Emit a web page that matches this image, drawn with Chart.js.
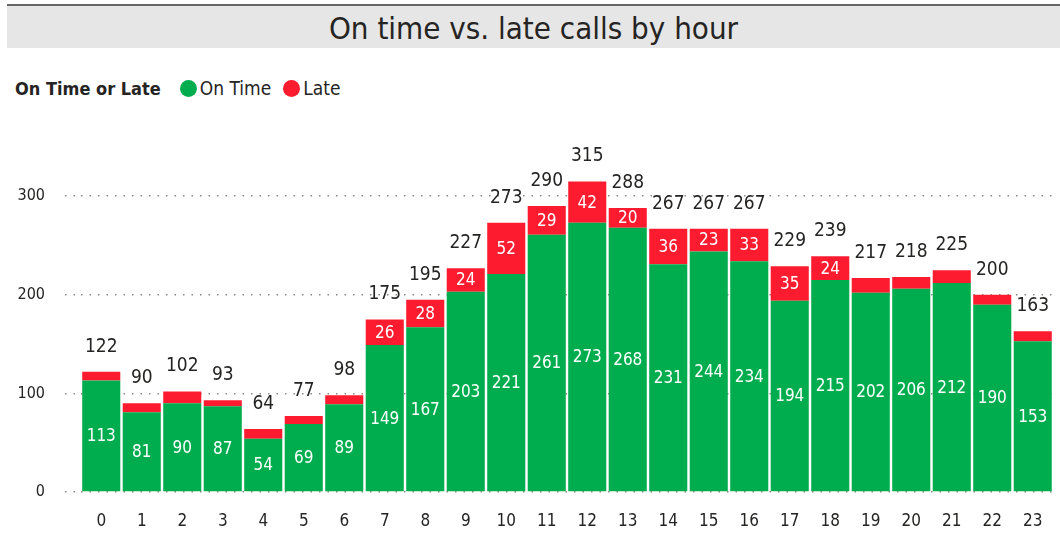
<!DOCTYPE html>
<html>
<head>
<meta charset="utf-8">
<script src="https://cdn.jsdelivr.net/npm/chart.js@4"></script>
<style>
  html, body { margin: 0; padding: 0; background: #fff; }
  body { width: 1060px; height: 541px; position: relative; overflow: hidden;
         font-family: "DejaVu Sans Condensed", "Liberation Sans Narrow", sans-serif; color: #252423; }
  #title { position: absolute; left: 7px; top: 4px; width: 1053px; height: 42px;
           background: #e6e6e6; border-top: 2px solid #666; text-align: center;
           font-size: 31px; line-height: 44px; }
  #legend { position: absolute; left: 15px; top: 76px; font-size: 19px; line-height: 24px; white-space: nowrap; }
  #legend b { margin-right: 19px; font-size: 18px; }
  .dot { display: inline-block; width: 17px; height: 17px; border-radius: 50%; vertical-align: -2px; margin-right: 3px; }
  .item { margin-right: 12px; }
  #wrap { position: absolute; left: 0; top: 0; width: 1060px; height: 541px; }
</style>
</head>
<body>
<div id="title">On time vs. late calls by hour</div>
<div id="legend"><b>On Time or Late</b><span class="item"><span class="dot" style="background:#00AD4E"></span>On Time</span><span class="item"><span class="dot" style="background:#FD1C2F"></span>Late</span></div>
<div id="wrap"><canvas id="chart"></canvas></div>
<script>
var hours = ["0","1","2","3","4","5","6","7","8","9","10","11","12","13","14","15","16","17","18","19","20","21","22","23"];
var onTime = [113,81,90,87,54,69,89,149,167,203,221,261,273,268,231,244,234,194,215,202,206,212,190,153];
var late = [9,9,12,6,10,8,9,26,28,24,52,29,42,20,36,23,33,35,24,15,12,13,10,10];
var yTicks = [0,100,200,300];

var green = "#00AD4E";
var red = "#FD1C2F";
var fontFam = '"DejaVu Sans Condensed", "Liberation Sans Narrow", sans-serif';

// labels inside segments and totals on top
var barLabels = {
  id: "barLabels",
  afterDatasetsDraw: function (chart) {
    var ctx = chart.ctx;
    var m0 = chart.getDatasetMeta(0);
    var m1 = chart.getDatasetMeta(1);
    ctx.save();
    ctx.textAlign = "center";
    ctx.textBaseline = "middle";
    for (var i = 0; i < hours.length; i++) {
      var b0 = m0.data[i];
      var b1 = m1.data[i];
      ctx.font = "17px " + fontFam;
      ctx.fillStyle = "#fff";
      ctx.fillText(onTime[i], b0.x, (b0.y + b0.base) / 2 + 1);
      if (late[i] >= 20) {
        ctx.fillText(late[i], b1.x, (b1.y + b1.base) / 2 + 1);
      }
      ctx.fillStyle = "#252423";
      ctx.font = "19px " + fontFam;
      ctx.fillText(onTime[i] + late[i], b1.x, b1.y - 25);
    }
    ctx.restore();
  }
};

new Chart(document.getElementById("chart"), {
  type: "bar",
  data: {
    labels: hours,
    datasets: [
      { label: "On Time", data: onTime, backgroundColor: green, borderWidth: 0,
        barPercentage: 0.94, categoryPercentage: 1 },
      { label: "Late", data: late, backgroundColor: red, borderWidth: 0,
        barPercentage: 0.94, categoryPercentage: 1 }
    ]
  },
  options: {
    responsive: true,
    maintainAspectRatio: false,
    animation: false,
    layout: { padding: { left: 0, right: 7, top: 137, bottom: 0 } },
    plugins: { legend: { display: false }, tooltip: { enabled: false } },
    scales: {
      x: {
        stacked: true,
        afterFit: function (scale) { scale.height = 49; },
        grid: { display: false },
        border: { display: false },
        ticks: { color: "#252423", font: { family: fontFam, size: 17 }, padding: 11 }
      },
      y: {
        stacked: true,
        min: 0,
        max: 360,
        afterBuildTicks: function (scale) {
          scale.ticks = yTicks.map(function (v) { return { value: v }; });
        },
        afterFit: function (scale) { scale.width = 81; },
        border: { display: false, dash: [1.5, 7] },
        grid: { color: "#8a8a8a", lineWidth: 1.5, tickLength: 16, tickBorderDash: [1.5, 7] },
        ticks: { color: "#252423", font: { family: fontFam, size: 16 }, padding: 20 }
      }
    }
  },
  plugins: [barLabels]
});
</script>
</body>
</html>
